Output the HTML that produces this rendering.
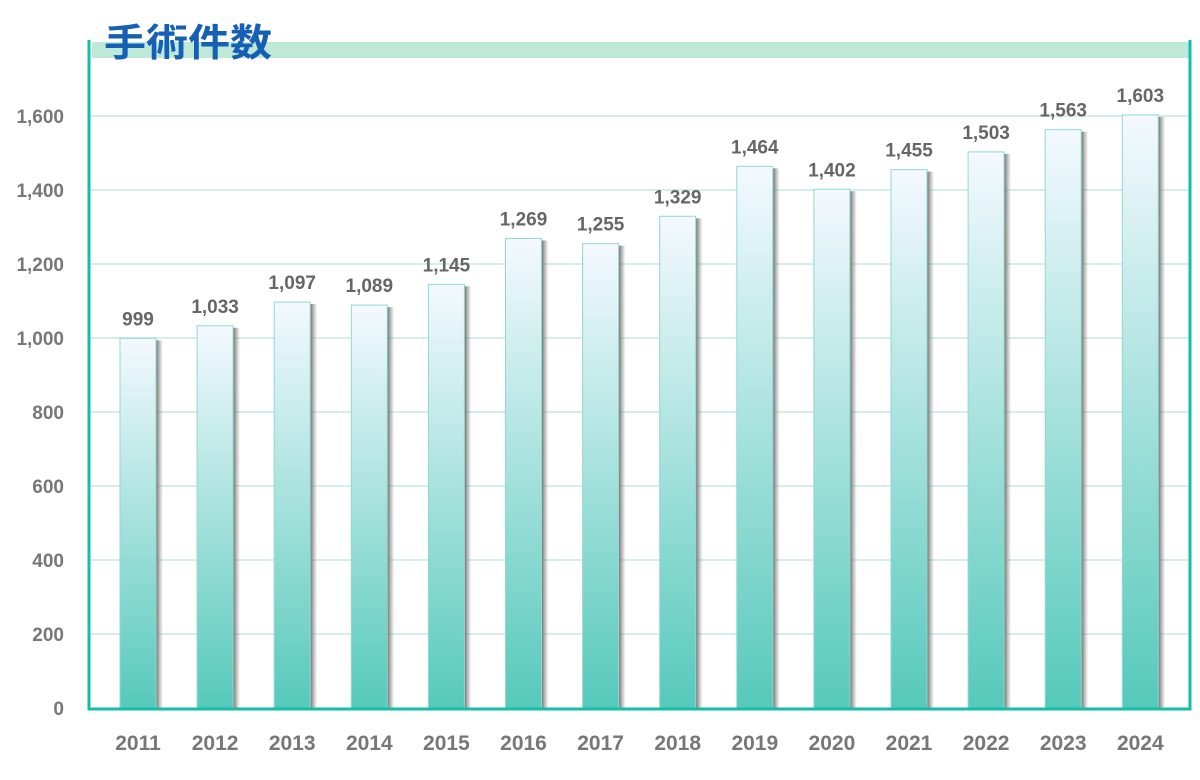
<!DOCTYPE html>
<html><head><meta charset="utf-8"><style>
body{margin:0;background:#fff;width:1200px;height:775px;overflow:hidden;font-family:"Liberation Sans","Noto Sans CJK JP",sans-serif}
</style></head><body>
<svg id="chart" width="1200" height="775" xmlns="http://www.w3.org/2000/svg">
<defs>
<linearGradient id="bg" x1="0" y1="0" x2="0" y2="1"><stop offset="0" stop-color="#f4f9fe"/><stop offset="1" stop-color="#56c9bb"/></linearGradient>
<linearGradient id="sh" x1="0" y1="0" x2="1" y2="0"><stop offset="0" stop-color="#6e6e6e"/><stop offset="1" stop-color="#8a8a8a" stop-opacity="0"/></linearGradient>
</defs>
<rect x="92" y="42" width="1098" height="16" fill="#bfe8d8"/>
<text x="104" y="56" font-size="38" font-weight="bold" fill="#1560b5" textLength="168" lengthAdjust="spacingAndGlyphs" font-family="'Noto Sans CJK JP',sans-serif">手術件数</text>
<g id="grid"></g><g id="bars"></g><g id="labels"></g>
<path d="M89 40 V709 H1190 V40" fill="none" stroke="#14bfaa" stroke-width="3"/>
</svg>
<script>
const years=["2011","2012","2013","2014","2015","2016","2017","2018","2019","2020","2021","2022","2023","2024"];
const counts=[999,1033,1097,1089,1145,1269,1255,1329,1464,1402,1455,1503,1563,1603];
const yTicks=[0,200,400,600,800,1000,1200,1400,1600];
const NS="http://www.w3.org/2000/svg";
const y=v=>708-v*0.37;
const xc=i=>138+i*77.1;
function mk(t,a,p){const e=document.createElementNS(NS,t);for(const k in a)e.setAttribute(k,a[k]);p.appendChild(e);return e;}
const grid=document.getElementById('grid'),bars=document.getElementById('bars'),labels=document.getElementById('labels');
yTicks.forEach(v=>{
 if(v>0){const l=mk('line',{x1:90,x2:1189,y1:y(v),y2:y(v),stroke:'#d3efe9','stroke-width':2},grid);
 
 }
 const t=mk('text',{x:64,y:y(v)+7,'text-anchor':'end','font-size':19,'font-weight':'bold',fill:'#777'},labels);
 t.textContent=v.toLocaleString('en-US');
 
 
});
counts.forEach((v,i)=>{
 const x=xc(i)-18,top=y(v);
 const s=mk('rect',{x:x+36,y:top+2,width:7,height:708-top-2,fill:'url(#sh)'},bars);
 
 
 const r=mk('rect',{x:x,y:top,width:36,height:708-top,fill:'url(#bg)',stroke:'#8fd9cf','stroke-width':1},bars);
 
 
 const t=mk('text',{x:xc(i),y:top-13,'text-anchor':'middle','font-size':19,'font-weight':'bold',fill:'#666'},labels);
 t.textContent=v.toLocaleString('en-US');
 
 
 const yl=mk('text',{x:xc(i),y:750,'text-anchor':'middle','font-size':21,'font-weight':'bold',fill:'#777'},labels);
 yl.textContent=years[i];
 
 
});
</script>
</body></html>
